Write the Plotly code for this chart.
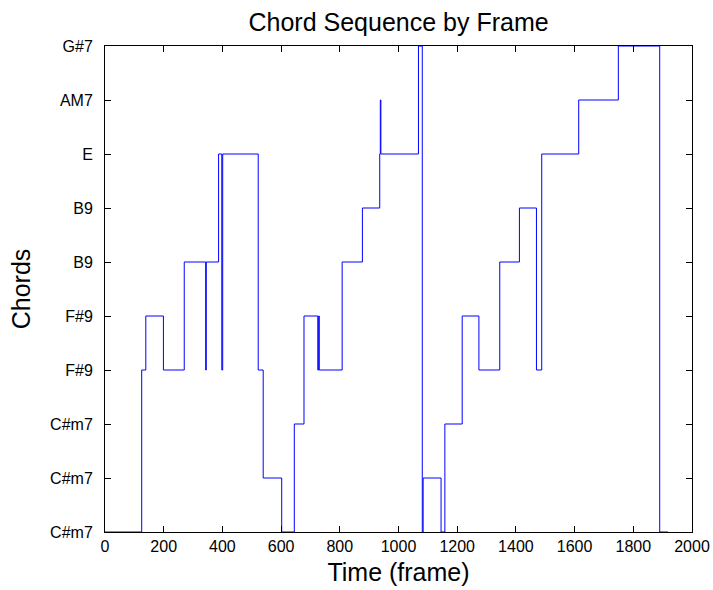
import plotly.graph_objects as go

# Step data: frame at which a chord starts, and the chord level (index into chord_labels)
change_frames = [0, 125, 139, 199, 270, 343, 345, 387, 398, 401, 522, 539, 602, 645, 678,
                 725, 728, 730, 808, 877, 936, 938, 940, 1068, 1081, 1084, 1145, 1158, 1217,
                 1274, 1345, 1412, 1470, 1488, 1614, 1749, 1890, 1918]
chord_levels = [0, 3, 4, 3, 5, 3, 5, 7, 3, 7, 3, 1, 0, 2, 4,
                3, 4, 3, 5, 6, 7, 8, 7, 9, 0, 1, 0, 2, 4,
                3, 5, 6, 3, 7, 8, 9, 0, 0]

chord_labels = ["C#m7", "C#m7", "C#m7", "F#9", "F#9", "B9", "B9", "E", "AM7", "G#7"]
chord_ticks = list(range(len(chord_labels)))
x_ticks = list(range(0, 2001, 200))

FONT = "Liberation Sans, Arial, Helvetica, sans-serif"

fig = go.Figure()
fig.add_trace(go.Scatter(
    x=change_frames, y=chord_levels, mode="lines",
    line=dict(color="#0000FF", width=1, shape="hv"),
    showlegend=False, hoverinfo="skip",
))

axis_common = dict(
    showline=True, linecolor="black", linewidth=1, mirror="ticks",
    ticks="inside", ticklen=6, tickcolor="black", tickwidth=1,
    showgrid=False, zeroline=False, automargin=False,
    tickfont=dict(family=FONT, size=16, color="black"),
)

fig.update_layout(
    template="none",
    width=713, height=590,
    margin=dict(l=105, r=21, t=46, b=58, autoexpand=False),
    paper_bgcolor="white", plot_bgcolor="white",
    title=dict(text="Chord Sequence by Frame", x=0.559, xanchor="center",
               y=1 - 22.5 / 590, yanchor="middle", yref="container",
               font=dict(family=FONT, size=25, color="black")),
    xaxis=dict(range=[0, 2000], tickvals=x_ticks, ticktext=[str(v) for v in x_ticks],
               title=dict(text="Time (frame)", font=dict(family=FONT, size=25, color="black"),
                          standoff=9),
               **axis_common),
    yaxis=dict(range=[0, 9], tickvals=chord_ticks, ticktext=chord_labels,
               ticklabelstandoff=8,
               title=dict(text="Chords", font=dict(family=FONT, size=25, color="black"),
                          standoff=12),
               **axis_common),
)

fig.write_html("out.html")
